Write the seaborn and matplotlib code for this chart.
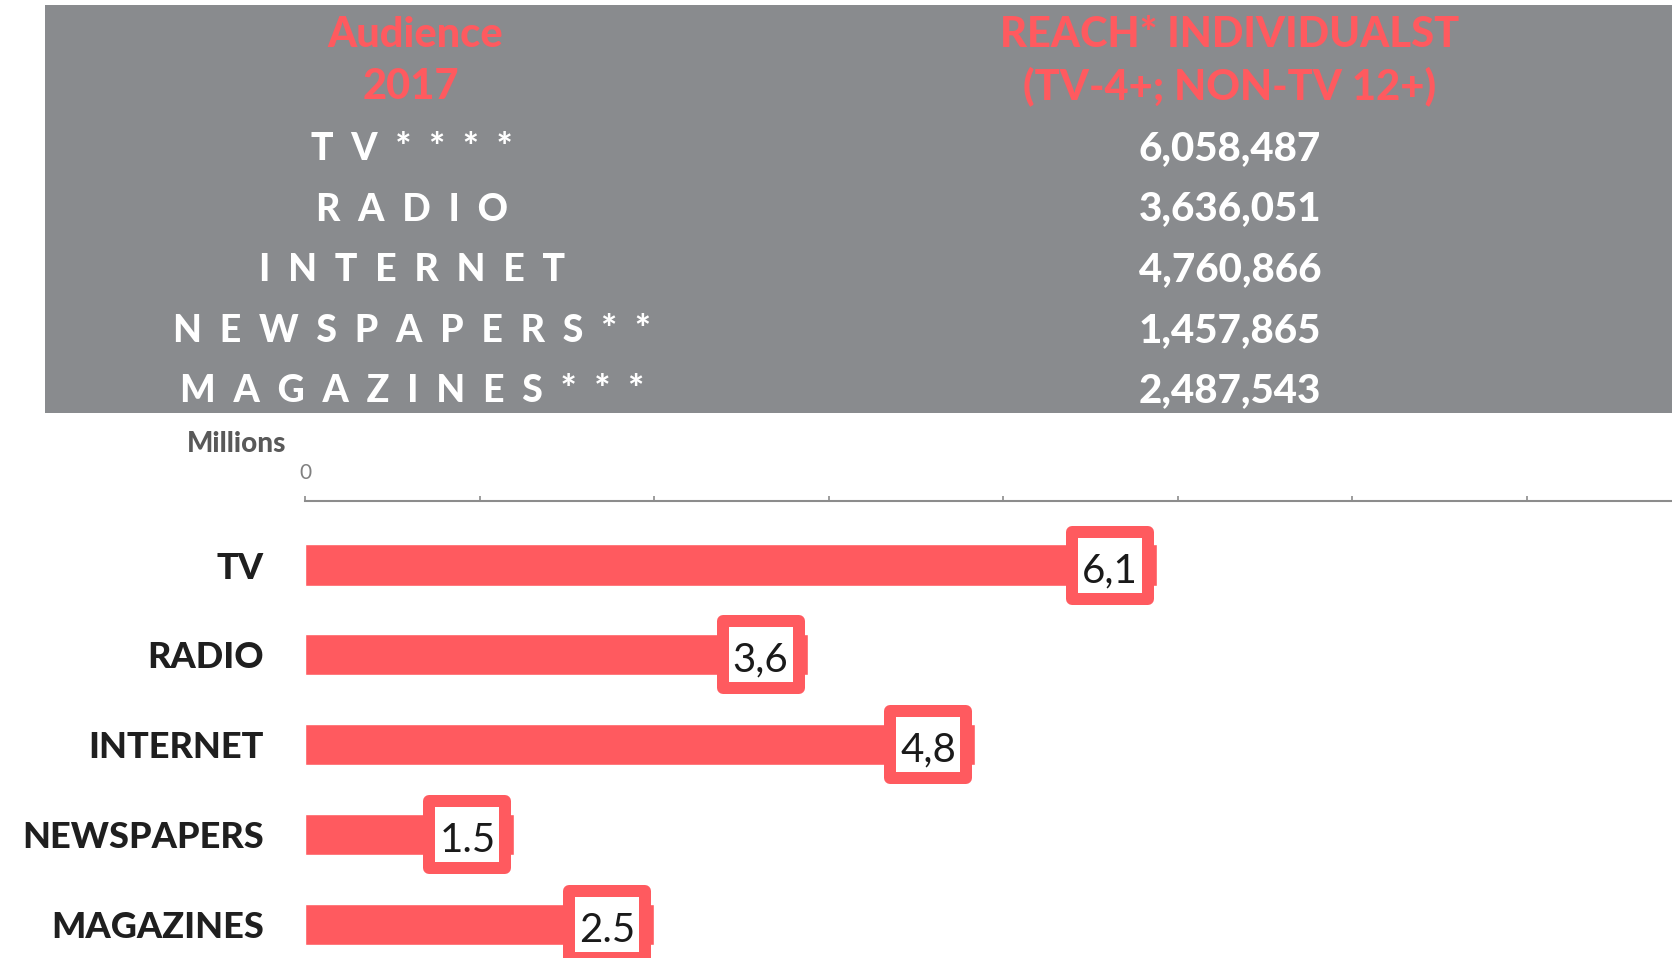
import numpy as np
import pandas as pd
import matplotlib
matplotlib.use("Agg")
import matplotlib.pyplot as plt
from matplotlib.patches import Rectangle
import seaborn as sns

# Media reach, 2017
categories = ["TV", "RADIO", "INTERNET", "NEWSPAPERS", "MAGAZINES"]
reach_millions = [6.1, 3.6, 4.8, 1.5, 2.5]
value_labels = ["6,1", "3,6", "4,8", "1.5", "2.5"]
table_media = ["TV****", "RADIO", "INTERNET", "NEWSPAPERS**", "MAGAZINES***"]
table_reach = ["6,058,487", "3,636,051", "4,760,866", "1,457,865", "2,487,543"]
header_left = ["Audience", "2017"]
header_right = ["REACH* INDIVIDUALST", "(TV-4+; NON-TV 12+)"]

RED = "#FF5A5F"
GREY_BAND = "#898B8E"
AXIS_GREY = "#8C8C8C"

W, H, DPI = 1672, 958, 100

sns.set_theme(style="white")
plt.rcParams["font.family"] = ["Lato", "DejaVu Sans"]

fig = plt.figure(figsize=(W / DPI, H / DPI), dpi=DPI, facecolor="white")


def fx(px):
    return px / W


def fy(py):
    return 1 - py / H


def pt(px):
    return px * 72 / DPI


# ---- summary table band -------------------------------------------------
fig.add_artist(Rectangle((fx(45), fy(413)), fx(W) - fx(45), fy(5) - fy(413),
                         transform=fig.transFigure, facecolor=GREY_BAND,
                         edgecolor="none", zorder=0))

for j, txt in enumerate(header_left):
    fig.text(fx(415 if j == 0 else 411), fy(47 + 52 * j), txt, ha="center",
             va="baseline", color=RED, fontsize=30, fontweight="black")
for j, txt in enumerate(header_right):
    fig.text(fx(1230), fy(47 + 52 * j), txt, ha="center", va="baseline",
             color=RED, fontsize=30, fontweight="black")

for i, (name, reach) in enumerate(zip(table_media, table_reach)):
    base = 160 + 60.6 * i
    fig.text(fx(412), fy(base), "  ".join(name), ha="center", va="baseline",
             color="white", fontsize=27, fontweight="black")
    fig.text(fx(1230), fy(base), reach, ha="center", va="baseline",
             color="white", fontsize=29, fontweight="black")

# ---- bar chart ----------------------------------------------------------
ax_left, ax_top, ax_bottom = 305, 500.7, 958
ax = fig.add_axes([fx(ax_left), fy(ax_bottom), fx(W) - fx(ax_left),
                   fy(ax_top) - fy(ax_bottom)])

df = pd.DataFrame({"media": categories, "reach": reach_millions})
sns.barplot(data=df, x="reach", y="media", orient="h", color=RED,
            saturation=1, width=0.456, ax=ax, zorder=2)

px_per_million = 139.6
xmax = (W - ax_left) / px_per_million
ylim = (4.37, -0.715)
ax.set_xlim(0, xmax)
ax.set_ylim(*ylim)
ppx = (W - ax_left) / xmax
ppy = (ax_bottom - ax_top) / (ylim[0] - ylim[1])

ax.xaxis.tick_top()
ticks = np.arange(0, xmax, 1.25)
ax.set_xticks(ticks)
ax.set_xticklabels(["0"] + [""] * (len(ticks) - 1))
ax.tick_params(axis="x", direction="out", length=3.5, width=1.2,
               color=AXIS_GREY, pad=9, labelsize=15, labelcolor="#808080")
ax.tick_params(axis="y", length=0, pad=29.5, labelsize=26)
for lbl in ax.get_yticklabels():
    lbl.set_fontweight("black")
    lbl.set_color("#1F1F1F")
ax.set_xlabel("")
ax.set_ylabel("")

for side in ["left", "right", "bottom"]:
    ax.spines[side].set_visible(False)
ax.spines["top"].set_color(AXIS_GREY)
ax.spines["top"].set_linewidth(1.5)

fig.text(fx(187), fy(451.5), "Millions", ha="left", va="baseline",
         fontsize=20, fontweight="black", color="#595959")

# value tags at the end of each bar
box_w, box_h, border = 88, 79, 12
for i, (v, lab) in enumerate(zip(reach_millions, value_labels)):
    cx = v - 47 / ppx
    w = (box_w - border) / ppx
    h = (box_h - border) / ppy
    ax.add_patch(Rectangle((cx - w / 2, i - h / 2), w, h, facecolor="white",
                           edgecolor=RED, linewidth=pt(border),
                           joinstyle="round", zorder=3, clip_on=False))
    ax.annotate(lab, xy=(v, i), xytext=(pt(-47), pt(-17)),
                textcoords="offset points", ha="center", va="baseline",
                fontsize=29, color="#1A1A1A", zorder=4, annotation_clip=False)

fig.savefig("out.png", dpi=DPI)
